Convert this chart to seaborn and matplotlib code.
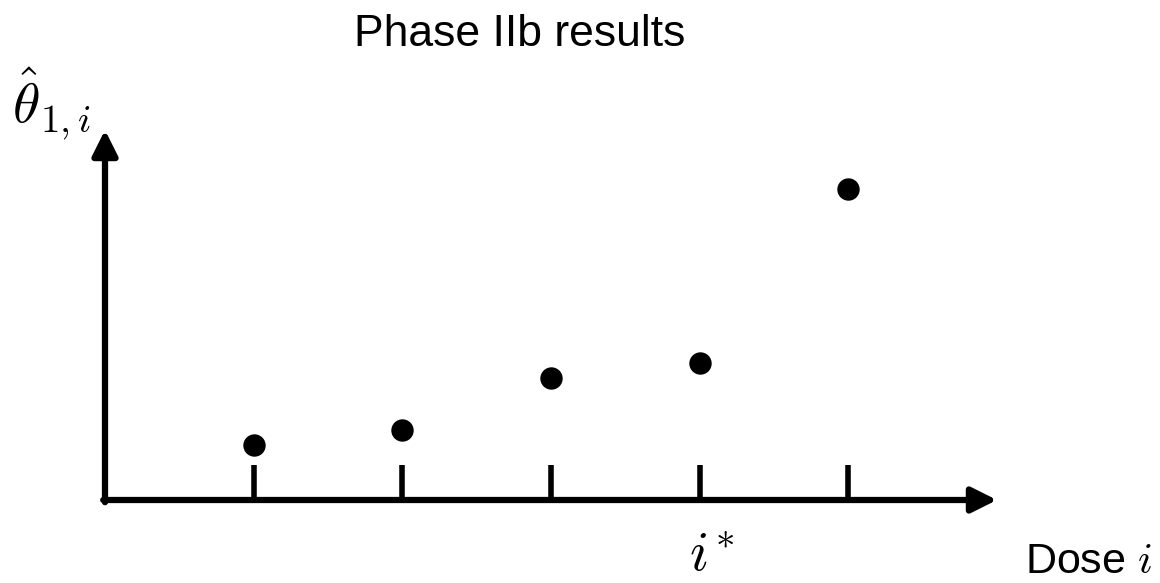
import matplotlib
matplotlib.use("Agg")
import matplotlib.pyplot as plt
import matplotlib.transforms as mtransforms
import pandas as pd
import seaborn as sns

# Data
doses = [1, 2, 3, 4, 5]
theta_hat = [0.15, 0.19, 0.33, 0.37, 0.84]
tick_labels = ["", "", "", r"$i^{\!*}$", ""]

sns.set_style("white")
plt.rcParams["font.family"] = ["Liberation Sans", "DejaVu Sans"]
plt.rcParams["mathtext.fontset"] = "cm"
plt.rcParams["text.color"] = "black"
plt.rcParams["xtick.color"] = "black"

df = pd.DataFrame({"dose": doses, "theta": theta_hat})

fig = plt.figure(figsize=(11.6, 5.83), dpi=100)
ax = fig.add_axes([105 / 1160, 83 / 583, 892 / 1160, 370 / 583])

sns.scatterplot(data=df, x="dose", y="theta", ax=ax, s=260, color="black",
                linewidth=0, clip_on=False)

ax.set_xlim(0, 6)
ax.set_ylim(0, 1)
for sp in ax.spines.values():
    sp.set_visible(False)

# axis arrows
arrow = dict(arrowstyle="-|>", lw=4.5, color="black", mutation_scale=38,
             shrinkA=0, shrinkB=0)
ax.annotate("", xy=(6, 0), xytext=(-0.012, 0), arrowprops=arrow,
            annotation_clip=False)
ax.annotate("", xy=(0, 1), xytext=(0, -0.006), arrowprops=arrow,
            annotation_clip=False)

ax.set_xticks(doses)
ax.set_xticklabels(tick_labels, fontsize=40, color="black")
ax.tick_params(axis="x", direction="in", length=25, width=4, pad=22,
               bottom=True, colors="black")
shift = mtransforms.ScaledTranslation(12 / 100, 0, fig.dpi_scale_trans)
for lab in ax.get_xticklabels():
    lab.set_transform(lab.get_transform() + shift)
ax.set_yticks([])
ax.set_xlabel("")
ax.set_ylabel("")

fig.text(520 / 1160, 1 - 35 / 583, "Phase IIb results", fontsize=32,
         ha="center", va="center")
fig.text(12 / 1160, 1 - 104 / 583, r"$\hat{\theta}_{1,i}$", fontsize=40,
         ha="left", va="center")
fig.text(1152 / 1160, 1 - 562 / 583, r"Dose $i$", fontsize=31,
         ha="right", va="center")

fig.savefig("out.png", dpi=100)
